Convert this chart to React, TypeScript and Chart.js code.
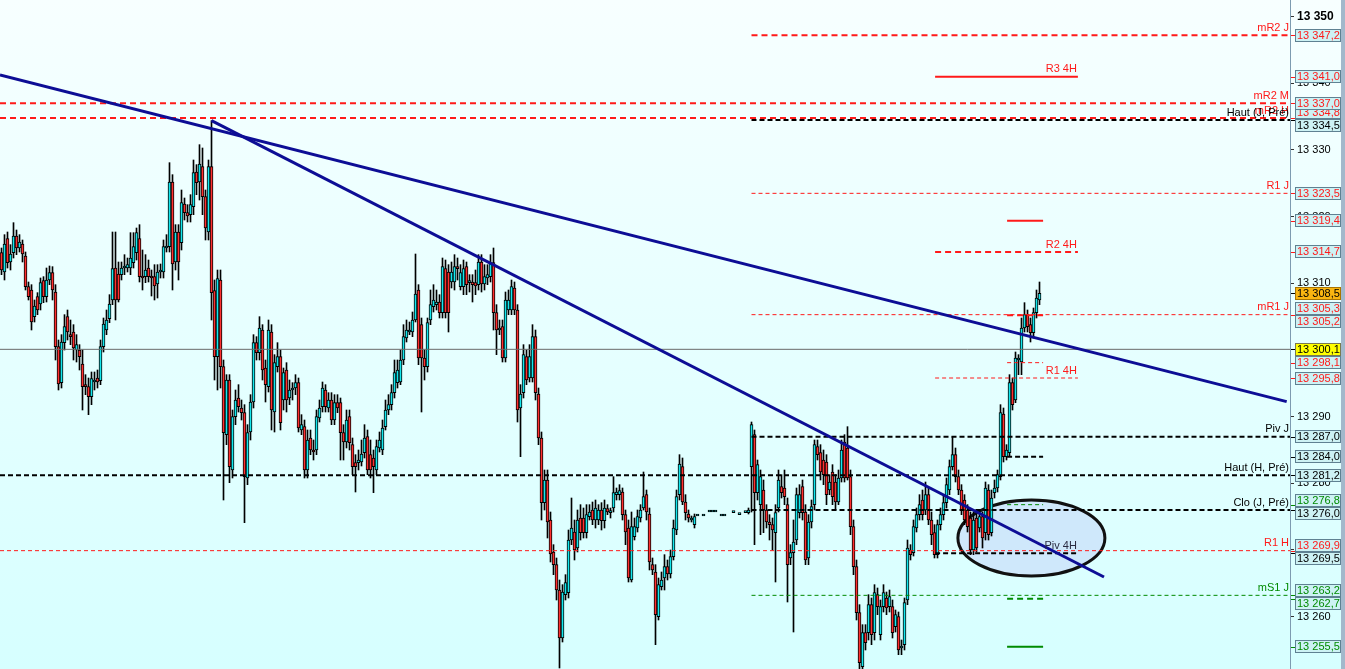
import React, { useEffect, useRef } from "react";
import { Chart, registerables } from "chart.js";

Chart.register(...registerables);

// ---------- candle data (index = bar number, prices) ----------
const opens: (number | null)[] = [
  13314.6, 13311.7, 13316.7, 13313.2, 13314.6, 13317.1, 13315.3, 13315.9, 13314.1, 13309.5,
  13309.0, 13305.0, 13308.0, 13306.9, 13310.4, 13308.0, 13310.5, 13311.6, 13308.7, 13300.5,
  13295.1, 13301.1, 13305.0, 13302.3, 13302.7, 13300.0, 13300.0, 13297.9, 13294.8, 13294.5,
  13293.0, 13295.2, 13295.8, 13295.4, 13300.5, 13303.0, 13304.7, 13307.5, 13312.3, 13311.4,
  13311.3, 13312.3, 13312.3, 13312.3, 13313.1, 13314.6, 13316.7, 13311.0, 13311.0, 13312.3, 13311.0,
  13311.0, 13309.9, 13311.7, 13311.7, 13315.3, 13315.5, 13325.2, 13313.2, 13317.7, 13316.1,
  13321.9, 13320.6, 13320.3, 13321.5, 13326.7, 13325.2, 13327.5, 13323.0, 13317.7, 13327.5, 13308.9,
  13299.0, 13310.5, 13297.5, 13287.3, 13295.5, 13282.0, 13290.0, 13292.8, 13291.3, 13290.6,
  13280.8, 13287.7, 13292.2, 13301.1, 13299.6, 13303.0, 13297.3, 13294.5, 13302.7, 13290.7,
  13297.5, 13299.0, 13292.5, 13297.0, 13292.8, 13294.0, 13294.3, 13295.1, 13288.0, 13288.5,
  13282.0, 13286.8, 13285.0, 13285.0, 13289.8, 13291.5, 13294.0, 13291.3, 13292.5, 13289.5,
  13292.1, 13292.1, 13287.6, 13286.2, 13290.0, 13285.8, 13283.1, 13283.1, 13283.2, 13284.6,
  13287.0, 13284.3, 13283.8, 13282.0, 13285.3, 13285.0, 13288.5, 13291.0, 13291.8, 13293.6,
  13295.1, 13295.2, 13298.5, 13301.8, 13302.7, 13302.7, 13304.5, 13309.0, 13303.8, 13298.8,
  13297.5, 13304.5, 13306.5, 13306.8, 13307.2, 13305.6, 13312.2, 13311.7, 13310.2, 13310.2,
  13312.5, 13309.5, 13309.5, 13312.5, 13310.1, 13310.2, 13310.1, 13309.8, 13313.2, 13309.9,
  13310.8, 13311.0, 13313.1, 13305.6, 13303.0, 13303.5, 13298.8, 13306.0, 13306.0, 13309.3,
  13306.0, 13291.3, 13293.6, 13299.0, 13295.8, 13295.8, 13302.0, 13293.4, 13286.8, 13277.1,
  13280.5, 13274.5, 13269.7, 13267.8, 13264.0, 13256.8, 13263.3, 13263.6, 13271.5, 13272.7,
  13270.3, 13274.8, 13274.8, 13272.6, 13275.0, 13276.0, 13274.5, 13274.5, 13276.0, 13274.4,
  13276.2, 13275.6, 13276.3, 13278.3, 13278.3, 13278.7, 13275.3, 13273.3, 13265.5, 13272.0,
  13273.3, 13274.8, 13276.3, 13278.3, 13275.4, 13267.8, 13266.7, 13260.0, 13264.5, 13265.8,
  13267.5, 13266.4, 13269.0, 13273.0, 13278.3, 13282.5, 13277.2, 13275.4, 13274.5, 13273.8,
  13275.1, null, 13275.1, null, 13275.7, 13275.7, 13275.7, null, 13275.1, 13275.1,
  null, null, 13275.6, null, 13275.3, null, 13275.6,
  13275.6, 13282.5, 13287.3, 13278.6, 13276.8, 13279.0, 13276.0, 13274.2, 13273.8, 13272.6,
  13276.3, 13279.5, 13279.3, 13276.8, 13268.8, 13269.6, 13271.5, 13275.6, 13279.5, 13275.7,
  13268.8, 13274.2, 13276.8, 13285.5, 13284.6, 13283.5, 13283.2, 13279.0, 13281.7, 13280.2,
  13277.2, 13280.8, 13286.2, 13285.3, 13281.0, 13273.5, 13267.5, 13260.6, 13252.5, 13257.6,
  13257.6, 13261.8, 13257.6, 13263.3, 13257.3, 13261.5, 13262.8, 13261.5, 13261.5, 13258.5,
  13260.0, 13255.3, 13255.8, 13262.5, 13270.0, 13269.6, 13273.3, 13275.3, 13277.5, 13276.0,
  13278.3, 13274.5, 13272.6, 13269.3, 13273.8, 13275.3, 13277.1, 13279.0, 13282.5, 13284.3,
  13281.0, 13279.0, 13277.5, 13276.0, 13274.8, 13270.0, 13274.8, 13273.3, 13275.0, 13272.6,
  13279.0, 13272.6, 13278.6, 13279.3, 13281.0, 13290.4, 13284.0, 13284.6, 13295.1, 13292.5,
  13298.5, 13298.2, 13303.3, 13305.3, 13303.8, 13302.6, 13305.6, 13307.5,
];

const highs: (number | null)[] = [
  13315.3, 13317.3, 13317.7, 13315.8, 13319.1, 13318.0, 13317.3, 13316.5, 13314.7, 13310.2,
  13309.8, 13307.5, 13308.6, 13310.8, 13311.0, 13312.3, 13312.6, 13312.5, 13309.8, 13301.5,
  13302.3, 13305.3, 13306.0, 13304.5, 13303.8, 13302.3, 13300.8, 13300.0, 13296.3, 13295.8,
  13296.7, 13296.7, 13297.0, 13301.5, 13304.8, 13306.0, 13308.3, 13317.7, 13317.7, 13313.2,
  13313.2, 13314.3, 13313.8, 13317.6, 13317.6, 13318.3, 13318.8, 13315.0, 13314.3, 13313.5, 13312.0,
  13312.8, 13312.8, 13312.9, 13316.5, 13317.3, 13328.1, 13326.3, 13318.8, 13318.8, 13324.0,
  13322.8, 13321.8, 13323.3, 13328.5, 13327.8, 13330.8, 13330.3, 13324.0, 13328.5, 13334.4, 13310.5,
  13312.0, 13312.0, 13298.5, 13296.3, 13296.3, 13291.0, 13294.0, 13294.8, 13292.5, 13291.8,
  13288.8, 13293.3, 13302.3, 13302.0, 13305.0, 13303.8, 13298.5, 13304.5, 13303.8, 13299.3,
  13301.1, 13300.0, 13297.3, 13298.1, 13295.5, 13295.1, 13296.3, 13295.8, 13290.3, 13289.5,
  13288.0, 13288.0, 13286.5, 13291.0, 13292.5, 13295.2, 13294.8, 13293.6, 13293.6, 13293.3,
  13293.3, 13292.8, 13288.8, 13291.0, 13291.0, 13286.8, 13284.3, 13285.0, 13286.5, 13288.8,
  13288.0, 13286.5, 13285.0, 13286.5, 13287.7, 13289.5, 13292.5, 13293.3, 13294.8, 13298.5,
  13298.5, 13300.0, 13303.8, 13304.5, 13304.2, 13305.7, 13314.4, 13309.8, 13304.8, 13300.0,
  13304.8, 13309.0, 13309.8, 13309.0, 13308.3, 13313.8, 13313.5, 13312.8, 13313.2, 13314.3,
  13313.8, 13312.8, 13313.5, 13313.2, 13311.3, 13311.3, 13312.0, 13314.3, 13314.3, 13312.8,
  13312.8, 13314.3, 13315.3, 13306.8, 13304.5, 13304.5, 13308.7, 13309.0, 13310.5, 13310.2,
  13306.8, 13294.8, 13300.8, 13300.0, 13300.8, 13303.8, 13303.0, 13294.3, 13287.7, 13282.0,
  13282.0, 13275.7, 13270.8, 13268.8, 13265.5, 13264.8, 13266.3, 13273.0, 13277.8, 13274.5,
  13276.0, 13276.8, 13276.3, 13276.8, 13276.8, 13277.2, 13277.5, 13276.8, 13277.1, 13277.5,
  13276.8, 13276.3, 13281.0, 13279.3, 13279.8, 13279.3, 13276.0, 13274.5, 13275.7, 13274.8,
  13276.0, 13276.8, 13281.7, 13279.0, 13276.3, 13268.8, 13267.8, 13265.8, 13266.7, 13269.3,
  13268.5, 13270.0, 13274.5, 13279.0, 13284.3, 13283.8, 13278.3, 13276.0, 13275.1, 13275.4,
  13275.1, null, 13275.1, null, 13275.7, 13275.7, 13275.7, null, 13275.1, 13275.1,
  null, null, 13275.6, null, 13275.3, null, 13275.6,
  13276.3, 13289.2, 13288.0, 13283.5, 13282.0, 13280.5, 13276.8, 13275.3, 13274.8, 13276.8,
  13282.0, 13281.3, 13282.0, 13277.8, 13270.8, 13274.5, 13279.3, 13279.8, 13280.5, 13276.8,
  13275.3, 13277.5, 13286.5, 13286.5, 13285.8, 13285.0, 13284.3, 13281.3, 13282.8, 13281.3,
  13282.0, 13286.5, 13287.3, 13288.5, 13282.0, 13274.5, 13268.5, 13261.8, 13258.8, 13258.8,
  13263.3, 13262.8, 13264.8, 13264.3, 13262.5, 13264.8, 13263.7, 13264.0, 13262.5, 13261.0,
  13260.7, 13256.5, 13262.8, 13271.5, 13270.8, 13274.5, 13276.3, 13278.3, 13279.0, 13280.2,
  13279.3, 13275.7, 13273.8, 13274.5, 13276.3, 13278.3, 13280.8, 13283.5, 13287.0, 13285.3,
  13282.0, 13279.8, 13278.3, 13276.8, 13275.7, 13275.7, 13276.0, 13276.0, 13275.7, 13280.2,
  13279.8, 13279.0, 13280.5, 13282.0, 13291.8, 13291.3, 13285.8, 13296.3, 13295.8, 13299.7,
  13299.3, 13304.8, 13307.1, 13306.0, 13304.8, 13306.3, 13309.0, 13310.2,
];

const lows: (number | null)[] = [
  13311.3, 13310.5, 13312.3, 13312.0, 13313.8, 13314.3, 13314.7, 13313.2, 13309.0, 13307.5,
  13303.0, 13304.2, 13305.3, 13306.0, 13307.1, 13307.2, 13309.8, 13307.5, 13298.5, 13294.0,
  13294.3, 13300.0, 13301.5, 13300.8, 13298.5, 13298.2, 13297.0, 13291.0, 13293.3, 13290.3,
  13291.8, 13294.0, 13294.3, 13294.8, 13299.7, 13302.3, 13304.1, 13306.8, 13304.5, 13307.2,
  13310.5, 13311.3, 13311.7, 13311.3, 13312.3, 13313.5, 13310.2, 13309.0, 13310.1, 13310.2, 13308.1,
  13307.5, 13307.8, 13310.8, 13310.8, 13314.7, 13314.7, 13309.0, 13312.0, 13310.5, 13315.0,
  13319.5, 13319.2, 13319.2, 13320.3, 13323.3, 13322.5, 13320.3, 13316.5, 13316.5, 13304.5, 13295.5,
  13294.0, 13294.3, 13277.5, 13285.8, 13280.1, 13280.8, 13288.8, 13290.7, 13289.5, 13274.1,
  13279.8, 13286.5, 13291.3, 13298.5, 13298.5, 13295.5, 13292.2, 13293.7, 13288.0, 13287.7,
  13296.7, 13288.0, 13291.0, 13290.7, 13291.8, 13292.5, 13293.3, 13287.7, 13287.3, 13280.8,
  13280.8, 13284.3, 13283.5, 13284.3, 13289.2, 13290.7, 13290.7, 13290.7, 13288.8, 13288.8,
  13290.6, 13283.5, 13283.5, 13285.3, 13285.0, 13281.3, 13278.7, 13282.0, 13282.6, 13283.8,
  13281.3, 13280.8, 13278.6, 13281.3, 13284.7, 13284.3, 13288.0, 13290.3, 13291.0, 13292.8,
  13294.3, 13294.8, 13297.8, 13301.2, 13302.3, 13302.0, 13304.2, 13297.8, 13290.7, 13295.5,
  13296.7, 13303.8, 13305.7, 13306.0, 13304.8, 13304.8, 13304.8, 13302.7, 13309.3, 13309.0,
  13310.5, 13309.0, 13308.3, 13308.3, 13308.7, 13307.2, 13308.3, 13309.0, 13308.7, 13309.0,
  13309.8, 13310.2, 13303.0, 13299.3, 13302.3, 13298.2, 13298.2, 13305.3, 13305.3, 13305.3,
  13289.2, 13284.0, 13292.8, 13294.8, 13295.2, 13295.2, 13292.5, 13285.8, 13274.5, 13276.0,
  13271.8, 13268.2, 13266.3, 13262.5, 13252.3, 13256.2, 13262.5, 13262.8, 13270.8, 13268.5,
  13269.7, 13271.5, 13271.8, 13271.8, 13274.5, 13273.8, 13273.3, 13273.8, 13273.0, 13273.3,
  13275.3, 13274.8, 13275.7, 13277.5, 13277.5, 13274.5, 13270.8, 13265.2, 13265.2, 13271.5,
  13272.7, 13274.2, 13276.0, 13274.5, 13267.0, 13266.3, 13255.8, 13259.5, 13264.0, 13264.0,
  13265.5, 13265.8, 13268.5, 13272.3, 13277.5, 13276.8, 13274.5, 13274.2, 13274.2, 13273.3,
  13275.1, null, 13275.1, null, 13275.7, 13275.7, 13275.7, null, 13275.1, 13275.1,
  null, null, 13275.6, null, 13275.3, null, 13275.6,
  13275.4, 13275.7, 13270.8, 13277.5, 13272.3, 13272.6, 13273.3, 13271.5, 13270.0, 13265.2,
  13275.7, 13277.8, 13276.8, 13262.2, 13267.8, 13257.7, 13270.8, 13274.8, 13274.5, 13267.8,
  13267.8, 13273.3, 13276.0, 13283.5, 13280.5, 13279.8, 13276.8, 13278.3, 13276.8, 13276.0,
  13276.8, 13280.2, 13280.2, 13280.5, 13272.3, 13266.3, 13259.5, 13252.2, 13252.2, 13255.0,
  13256.5, 13255.8, 13256.5, 13260.3, 13256.5, 13260.7, 13260.3, 13260.7, 13256.8, 13257.7,
  13254.3, 13254.3, 13255.0, 13261.8, 13268.5, 13269.1, 13272.7, 13274.5, 13274.5, 13275.3,
  13273.8, 13270.8, 13268.8, 13268.8, 13273.0, 13274.5, 13276.3, 13278.3, 13282.0, 13280.2,
  13278.3, 13275.3, 13273.8, 13272.7, 13269.3, 13269.3, 13269.7, 13272.7, 13270.3, 13271.5,
  13271.5, 13272.1, 13277.8, 13278.7, 13280.5, 13283.2, 13283.5, 13284.1, 13291.0, 13292.1,
  13296.3, 13296.3, 13302.7, 13302.7, 13301.2, 13301.8, 13304.8, 13306.8,
];

const closes: (number | null)[] = [
  13312.0, 13315.9, 13313.1, 13314.4, 13317.1, 13315.3, 13316.2, 13314.4, 13309.5, 13308.0,
  13304.2, 13306.6, 13306.0, 13310.1, 13308.0, 13310.5, 13311.6, 13309.0, 13300.5, 13294.9,
  13301.2, 13303.5, 13302.7, 13302.0, 13300.3, 13300.8, 13299.0, 13294.5, 13294.5, 13293.0,
  13295.7, 13295.5, 13295.2, 13300.5, 13303.9, 13304.5, 13306.9, 13312.2, 13307.5, 13307.5,
  13312.3, 13312.3, 13312.8, 13313.8, 13315.5, 13317.6, 13311.0, 13310.8, 13312.0, 13311.0, 13310.8,
  13309.6, 13311.7, 13312.0, 13315.5, 13315.5, 13325.2, 13312.9, 13317.7, 13313.2, 13322.1,
  13320.6, 13320.1, 13321.8, 13326.6, 13325.1, 13327.9, 13323.0, 13318.3, 13327.5, 13308.6, 13299.0,
  13310.7, 13297.5, 13287.6, 13295.5, 13282.5, 13290.0, 13292.5, 13291.5, 13290.6, 13281.0,
  13287.6, 13292.2, 13301.1, 13299.6, 13303.3, 13297.0, 13294.8, 13303.0, 13291.0, 13298.1,
  13299.0, 13289.1, 13296.6, 13292.5, 13294.0, 13294.0, 13295.1, 13288.3, 13288.8, 13282.0,
  13286.5, 13285.0, 13284.7, 13290.0, 13291.3, 13294.3, 13291.5, 13292.5, 13289.5, 13292.1,
  13291.3, 13287.6, 13286.2, 13289.5, 13286.1, 13282.5, 13282.5, 13283.5, 13284.4, 13286.8,
  13282.0, 13282.0, 13282.5, 13285.5, 13286.5, 13288.3, 13291.0, 13291.8, 13293.6, 13296.6,
  13297.0, 13298.5, 13302.0, 13303.0, 13303.0, 13304.5, 13308.4, 13298.8, 13298.8, 13297.5,
  13304.1, 13306.8, 13307.5, 13307.2, 13305.6, 13312.5, 13305.6, 13305.6, 13311.7, 13312.5,
  13312.2, 13311.6, 13312.2, 13309.8, 13310.1, 13309.8, 13309.6, 13313.2, 13309.9, 13311.0,
  13311.3, 13313.1, 13305.6, 13303.0, 13303.3, 13298.8, 13307.5, 13307.5, 13309.5, 13306.0,
  13291.0, 13293.4, 13299.3, 13295.5, 13299.0, 13302.0, 13293.6, 13286.8, 13277.1, 13280.5,
  13274.2, 13269.4, 13267.8, 13264.0, 13256.8, 13263.7, 13265.1, 13271.5, 13273.3, 13270.0,
  13274.5, 13272.6, 13272.6, 13275.3, 13275.7, 13274.5, 13276.3, 13276.0, 13274.4, 13276.3,
  13275.7, 13275.6, 13278.6, 13278.7, 13278.9, 13275.3, 13272.7, 13265.8, 13273.5, 13273.5,
  13275.0, 13276.0, 13278.0, 13275.7, 13268.2, 13267.0, 13260.3, 13264.8, 13265.5, 13267.5,
  13266.4, 13269.0, 13273.3, 13278.0, 13282.9, 13277.2, 13275.6, 13274.8, 13274.5, 13275.0,
  13275.1, null, 13275.1, null, 13275.7, 13275.7, 13275.7, null, 13275.1, 13275.1,
  null, null, 13275.6, null, 13275.3, null, 13275.6,
  13276.0, 13288.8, 13278.6, 13282.8, 13281.0, 13276.0, 13274.2, 13273.8, 13273.0, 13275.6,
  13280.5, 13278.6, 13278.0, 13267.8, 13269.6, 13271.2, 13278.3, 13278.3, 13275.6, 13268.5,
  13274.2, 13276.5, 13285.8, 13284.3, 13281.7, 13281.3, 13278.3, 13280.2, 13278.0, 13277.2,
  13280.8, 13285.0, 13280.8, 13280.8, 13273.5, 13267.5, 13260.6, 13253.1, 13257.6, 13256.1,
  13261.8, 13257.3, 13263.6, 13261.5, 13261.5, 13263.6, 13261.3, 13263.0, 13257.6, 13260.3,
  13255.0, 13255.5, 13262.1, 13270.3, 13269.3, 13273.5, 13275.3, 13276.8, 13275.3, 13278.3,
  13274.5, 13272.3, 13269.3, 13273.8, 13275.3, 13277.1, 13279.8, 13282.5, 13284.3, 13281.0,
  13279.0, 13276.0, 13274.5, 13273.5, 13270.0, 13274.5, 13270.3, 13275.0, 13271.8, 13279.3,
  13272.3, 13277.8, 13279.3, 13281.3, 13290.6, 13284.0, 13285.0, 13295.1, 13291.8, 13298.8,
  13298.5, 13303.3, 13305.3, 13303.5, 13302.6, 13305.6, 13307.8, 13308.5,
];

// ---------- levels ----------
const levelPrices = [
  13347.2, 13341.0, 13334.8, 13337.0, 13334.5, 13323.5, 13319.4, 13314.7, 13305.3, 13305.2,
  13300.1, 13298.1, 13295.8, 13287.0, 13284.0, 13281.2, 13276.8, 13276.0, 13269.9, 13269.5,
  13263.2, 13262.7, 13255.5,
];
const levelNames = [
  "mR2 J", "R3 4H", "mR2 H", "mR2 M", "Haut (J, Pré)", "R1 J", "", "R2 4H", "mR1 J", "",
  "", "", "R1 4H", "Piv J", "", "Haut (H, Pré)", "", "Clo (J, Pré)", "R1 H", "Piv 4H",
  "mS1 J", "", "",
];
// period of each level: D = day, H4 = 4 hours, S = short, F = full
const levelPeriods = [
  "D", "H4", "F", "F", "D", "D", "S", "H4", "D", "S",
  "F", "S", "H4", "D", "S", "F", "S", "D", "F", "H4",
  "D", "S", "S",
];
const levelKinds = [
  "res", "res", "res", "res", "ext", "res", "res", "res", "res", "res",
  "last", "res", "res", "piv", "piv", "ext", "sup", "ext", "res", "piv",
  "sup", "sup", "sup",
];
const thinLevels = [13323.5, 13305.3, 13298.1, 13295.8, 13269.9, 13263.2, 13276.8];
const solidLevels = [13341.0, 13319.4, 13255.5];

// trend lines and ellipse (bar index, price)
const trendA = [[-0.5, 13341.25], [428.4, 13292.25]];
const trendB = [[70, 13334.4], [367.5, 13265.95]];
const zoneCenter = [343.3, 13271.8];
const zoneRadius = [24.5, 5.7];

const X_MIN = -0.5;
const X_MAX = 429.5;
const Y_MIN = 13252.15;
const Y_MAX = 13352.5;
const PERIOD_SPAN: Record<string, [number, number]> = {
  D: [250, 429.5],
  H4: [311.2, 358.8],
  S: [335.2, 347.2],
  F: [-0.5, 429.5],
};

const RED = "#ff1a1a";
const GREEN = "#008a00";
const BLACK = "#000000";

type Look = { color: string; width: number; dash: number[] };
function lookFor(i: number): Look {
  const p = levelPrices[i];
  const kind = levelKinds[i];
  if (kind === "last") return { color: "#6a6a6a", width: 1, dash: [] };
  const color = kind === "res" ? RED : kind === "sup" ? GREEN : BLACK;
  if (solidLevels.includes(p)) return { color, width: 2, dash: [] };
  if (thinLevels.includes(p)) return { color, width: 1, dash: [4, 3] };
  if (color === BLACK) return { color, width: 2, dash: [5, 3] };
  return { color, width: 2, dash: [6, 4] };
}

function fmt(v: number, dec: number) {
  const s = v.toFixed(dec);
  const [ip, dp] = s.split(".");
  const withSp = ip.replace(/\B(?=(\d{3})+(?!\d))/g, " ");
  return dp !== undefined ? withSp + "," + dp : withSp;
}

const FONT = "'Liberation Sans', Arial, sans-serif";

const bgPlugin = {
  id: "bgPlugin",
  beforeDraw(chart: any) {
    const { ctx, width, height } = chart;
    ctx.save();
    const g = ctx.createLinearGradient(0, 0, 0, height);
    g.addColorStop(0, "#f7ffff");
    g.addColorStop(1, "#d6ffff");
    ctx.fillStyle = g;
    ctx.fillRect(0, 0, width, height);
    ctx.fillStyle = "#a2b8cb";
    ctx.fillRect(width - 4, 0, 4, height);
    ctx.restore();
  },
};

const zonePlugin = {
  id: "zonePlugin",
  beforeDatasetsDraw(chart: any) {
    const { ctx } = chart;
    const xs = chart.scales.x;
    const ys = chart.scales.y;
    const cx = xs.getPixelForValue(zoneCenter[0]);
    const cy = ys.getPixelForValue(zoneCenter[1]);
    const rx = xs.getPixelForValue(zoneCenter[0] + zoneRadius[0]) - cx;
    const ry = ys.getPixelForValue(zoneCenter[1] - zoneRadius[1]) - cy;
    ctx.save();
    ctx.beginPath();
    ctx.ellipse(cx, cy, rx, ry, 0, 0, Math.PI * 2);
    ctx.fillStyle = "#cfe8fb";
    ctx.fill();
    ctx.lineWidth = 3;
    ctx.strokeStyle = "#111111";
    ctx.stroke();
    ctx.restore();
  },
};

const labelPlugin = {
  id: "labelPlugin",
  afterDatasetsDraw(chart: any) {
    const { ctx } = chart;
    const xs = chart.scales.x;
    const ys = chart.scales.y;
    ctx.save();
    ctx.font = "11px " + FONT;
    ctx.textAlign = "right";
    ctx.textBaseline = "bottom";
    levelPrices.forEach((p, i) => {
      const name = levelNames[i];
      if (!name) return;
      const span = PERIOD_SPAN[levelPeriods[i]];
      const x = Math.min(xs.getPixelForValue(span[1]), chart.chartArea.right) - 1;
      const y = ys.getPixelForValue(p) - 2;
      const look = lookFor(i);
      ctx.fillStyle = name === "Piv 4H" ? "#2a2a40" : look.color;
      ctx.fillText(name, x, y);
    });
    ctx.restore();
  },
};

const boxPlugin = {
  id: "boxPlugin",
  afterDraw(chart: any) {
    const { ctx } = chart;
    const ys = chart.scales.y;
    const left = chart.chartArea.right;
    const items = levelPrices.map((p, i) => {
      const look = lookFor(i);
      const kind = levelKinds[i];
      return {
        price: p,
        text: kind === "last" ? BLACK : look.color,
        bg: kind === "last" ? "#ffff00" : "#cdf2f4",
        border: kind === "last" ? "#7a7a50" : "#5f8192",
        y0: ys.getPixelForValue(p),
        y: 0,
      };
    });
    const lastClose = closes[closes.length - 1] as number;
    items.push({ price: lastClose, text: BLACK, bg: "#f9b511", border: "#a87400", y0: ys.getPixelForValue(lastClose), y: 0 });
    const sorted = [...items].sort((a, b) => a.y0 - b.y0);
    let i = 0;
    while (i < sorted.length) {
      let j = i;
      while (j + 1 < sorted.length && sorted[j + 1].y0 - sorted[j].y0 < 10) j++;
      const n = j - i + 1;
      let m = 0;
      for (let k = i; k <= j; k++) m += sorted[k].y0;
      m /= n;
      for (let k = 0; k < n; k++) sorted[i + k].y = m + (k - (n - 1) / 2) * 13;
      i = j + 1;
    }
    ctx.save();
    ctx.font = "11px " + FONT;
    ctx.textBaseline = "middle";
    ctx.textAlign = "left";
    items.forEach((it) => {
      ctx.fillStyle = it.text;
      ctx.fillRect(left + 1, Math.round(it.y0), 4, 1);
      const top = Math.round(it.y - 6.5);
      ctx.fillStyle = it.bg;
      ctx.fillRect(left + 5, top, 46, 13);
      ctx.strokeStyle = it.border;
      ctx.lineWidth = 1;
      ctx.strokeRect(left + 5.5, top + 0.5, 45, 12);
      ctx.fillStyle = it.text;
      ctx.fillText(fmt(it.price, 1), left + 7, top + 7);
    });
    ctx.restore();
  },
};

export default function App() {
  const ref = useRef<HTMLCanvasElement | null>(null);

  useEffect(() => {
    document.body.style.margin = "0";
    const canvas = ref.current;
    if (!canvas) return;

    const wickData: any[] = [];
    const bodyData: any[] = [];
    const bodyColors: string[] = [];
    opens.forEach((o, i) => {
      const h = highs[i], l = lows[i], c = closes[i];
      if (o == null || h == null || l == null || c == null) return;
      if (h !== l) wickData.push({ x: i, y: [l, h] });
      bodyData.push({ x: i, y: [Math.min(o, c), Math.max(o, c)] });
      bodyColors.push(c < o ? "#ff3030" : "#14e8ee");
    });

    const levelSets = levelPrices.map((p, i) => {
      const span = PERIOD_SPAN[levelPeriods[i]];
      const look = lookFor(i);
      return {
        type: "line" as const,
        data: [{ x: span[0], y: p }, { x: span[1], y: p }],
        borderColor: look.color,
        borderWidth: look.width,
        borderDash: look.dash,
        pointRadius: 0,
        fill: false,
        order: -1,
      };
    });

    const trendSets = [trendA, trendB].map((t) => ({
      type: "line" as const,
      data: t.map(([x, y]) => ({ x, y })),
      borderColor: "#0d0d95",
      borderWidth: 3,
      pointRadius: 0,
      fill: false,
      order: -2,
    }));

    const topTick = Math.floor(Y_MAX / 10) * 10;

    const chart = new Chart(canvas, {
      type: "bar",
      data: {
        datasets: [
          {
            type: "bar",
            data: wickData,
            backgroundColor: "#000000",
            borderWidth: 0,
            barThickness: 1,
            grouped: false,
            order: 2,
          } as any,
          {
            type: "bar",
            data: bodyData,
            backgroundColor: bodyColors,
            borderColor: "#000000",
            borderWidth: 1,
            borderSkipped: false,
            barThickness: 3,
            minBarLength: 2,
            grouped: false,
            order: 1,
          } as any,
          ...levelSets,
          ...trendSets,
        ] as any,
      },
      options: {
        responsive: false,
        animation: false,
        devicePixelRatio: 1,
        events: [],
        layout: { padding: 0 },
        plugins: { legend: { display: false }, tooltip: { enabled: false } },
        scales: {
          x: {
            type: "linear",
            display: false,
            min: X_MIN,
            max: X_MAX,
            offset: false,
            grid: { display: false },
          },
          y: {
            type: "linear",
            position: "right",
            min: Y_MIN,
            max: Y_MAX,
            afterFit(s: any) {
              s.width = 55;
              s.paddingTop = 0;
              s.paddingBottom = 0;
            },
            ticks: {
              stepSize: 10,
              includeBounds: false,
              padding: 3,
              color: "#000000",
              autoSkip: false,
              font: (c: any) => ({
                family: FONT,
                size: c.tick && c.tick.value === topTick ? 12 : 11,
                weight: c.tick && c.tick.value === topTick ? "bold" : "normal",
              }),
              callback: (v: any) => fmt(Number(v), 0),
            },
            grid: { drawOnChartArea: false, drawTicks: true, tickLength: 4, color: "#333333" },
            border: { display: true, color: "#7d9bb0", width: 1 },
          },
        },
      } as any,
      plugins: [bgPlugin, zonePlugin, labelPlugin, boxPlugin],
    });

    return () => chart.destroy();
  }, []);

  return (
    <div style={{ position: "absolute", left: 0, top: 0, width: 1345, height: 669 }}>
      <canvas ref={ref} width={1345} height={669} style={{ display: "block" }} />
    </div>
  );
}
